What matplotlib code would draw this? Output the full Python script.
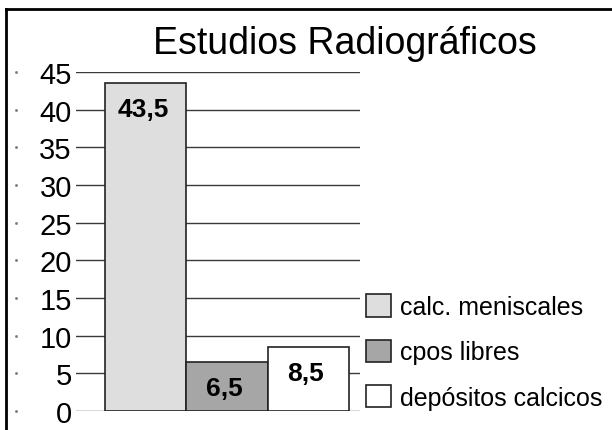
import matplotlib
matplotlib.use("Agg")
import matplotlib.pyplot as plt
from matplotlib.lines import Line2D
from matplotlib.patches import Patch
from matplotlib import transforms

plt.rcParams['font.family'] = ['Liberation Sans', 'DejaVu Sans']

title = "Estudios Radiográficos"
categories = ["calc. meniscales", "cpos libres", "depósitos calcicos"]
values = [43.5, 6.5, 8.5]
value_labels = ["43,5", "6,5", "8,5"]
colors = ["#dedede", "#a6a6a6", "#ffffff"]
yticks = [0, 5, 10, 15, 20, 25, 30, 35, 40, 45]

W, H = 612, 431
fig = plt.figure(figsize=(W / 100, H / 100), dpi=100)
ax = fig.add_axes([76 / W, (H - 412) / H, 284 / W, 339 / H])

x = list(range(len(values)))
ax.bar(x, values, width=1.0, color=colors, edgecolor="#222222", linewidth=1.2, zorder=3)
ax.set_xlim(-0.857, 2.633)
ax.set_ylim(0, 45)
ax.set_yticks(yticks)
ax.set_yticklabels([str(t) for t in yticks], fontsize=21)
ax.tick_params(axis="y", length=0, pad=3)
ax.set_xticks([])
ax.yaxis.grid(True, color="#3a3a3a", linewidth=1.0, zorder=0)
ax.set_axisbelow(True)
for s in ax.spines.values():
    s.set_visible(False)

for xi, v, lab in zip(x, values, value_labels):
    ax.annotate(lab, (xi, v), xytext=(-2, -18.5), textcoords="offset points",
                ha="center", va="center", fontsize=19, fontweight="bold", zorder=4)

# tiny dots at far left
blend = transforms.blended_transform_factory(fig.transFigure, ax.transData)
ax.plot([16 / W] * len(yticks), yticks, linestyle="none", marker="s", markersize=0.9,
        color="#777777", transform=blend, clip_on=False)

handles = [Patch(facecolor=c, edgecolor="#222222", linewidth=1.2) for c in colors]
fig.legend(handles, categories, loc="center left", bbox_to_anchor=(356 / W, 1 - 353 / H),
           frameon=False, fontsize=18, handlelength=1.0, handleheight=1.0,
           handletextpad=0.35, labelspacing=0.82, borderaxespad=0)

fig.text(345 / W, 1 - 54 / H, title, ha="center", va="baseline", fontsize=27)

fig.add_artist(Line2D([6 / W, 1], [1 - 10 / H, 1 - 10 / H], color="black", linewidth=2))
fig.add_artist(Line2D([6 / W, 6 / W], [0, 1 - 10 / H], color="black", linewidth=2))

fig.savefig("out.png", dpi=100)
